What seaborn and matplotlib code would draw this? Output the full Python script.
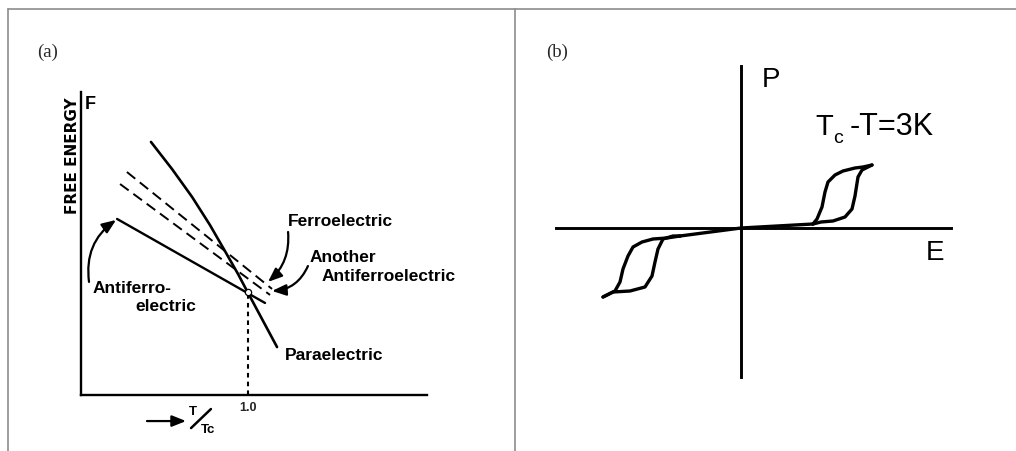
import matplotlib
matplotlib.use("Agg")
import matplotlib.pyplot as plt
import seaborn as sns
from matplotlib.lines import Line2D

sns.set_theme(style="white")
plt.rcParams['font.family'] = ['DejaVu Sans']

# ---------------- Panel (a): free energy vs reduced temperature ----------------
para_t = [0.419, 0.545, 0.665, 0.772, 0.862, 0.940, 0.994, 1.084, 1.174]
para_f = [1.515, 1.353, 1.186, 1.018, 0.862, 0.725, 0.623, 0.455, 0.287]
anti_t = [0.216, 1.102]
anti_f = [1.054, 0.551]
ferro_t = [0.275, 1.144]
ferro_f = [1.335, 0.635]
another_t = [0.234, 1.132]
another_f = [1.263, 0.599]
tc_mark = 1.0
f_cross = 0.617
tick_labels_a = ["1.0"]

# ---------------- Panel (b): double hysteresis loop P(E) ----------------
center_e = [-6.1, 0.0, 7.2]
center_p = [-0.8, 0.0, 0.4]
right_lower_e = [7.2, 8.0, 9.2, 10.4, 11.1, 11.4, 11.7, 12.1, 13.1]
right_lower_p = [0.4, 0.6, 0.7, 1.1, 1.9, 3.2, 5.1, 5.8, 6.3]
right_upper_e = [13.1, 12.2, 11.4, 10.2, 9.4, 8.7, 8.4, 8.1, 7.6, 7.2]
right_upper_p = [6.3, 6.1, 6.0, 5.7, 5.3, 4.6, 3.6, 2.1, 0.9, 0.4]
left_upper_e = [-6.1, -7.4, -8.8, -9.9, -10.8, -11.3, -11.8, -12.1, -12.6, -13.8]
left_upper_p = [-0.8, -1.0, -1.1, -1.4, -1.9, -2.8, -4.1, -5.4, -6.3, -6.9]
left_lower_e = [-13.8, -12.8, -11.1, -9.6, -8.9, -8.6, -8.3, -7.8, -6.8, -6.1]
left_lower_p = [-6.9, -6.4, -6.3, -5.9, -4.8, -3.4, -2.1, -1.1, -0.8, -0.8]

W, H = 1016, 452
fig = plt.figure(figsize=(W / 100, H / 100), dpi=100)
fig.patch.set_facecolor("white")

hand = dict(family=['Liberation Sans', 'DejaVu Sans'], weight='bold',
            color='black')
arial = dict(family=['Liberation Sans', 'DejaVu Sans'], color='black')


def px_rect(x0, y0, x1, y1):
    return [x0 / W, 1 - y1 / H, (x1 - x0) / W, (y1 - y0) / H]


# frame around the two panels
frame_kw = dict(color="#8c8c8c", lw=1.2, transform=fig.transFigure)
fig.add_artist(Line2D([8 / W, 1.0], [1 - 10 / H, 1 - 10 / H], **frame_kw))
fig.add_artist(Line2D([8 / W, 8 / W], [0, 1 - 10 / H], **frame_kw))
fig.add_artist(Line2D([515 / W, 515 / W], [0, 1 - 10 / H], **frame_kw))

fig.text(48 / W, 1 - 52 / H, "(a)", ha="center", va="center",
         family=['Liberation Serif', 'DejaVu Serif'], fontsize=13.5)
fig.text(557 / W, 1 - 52 / H, "(b)", ha="center", va="center",
         family=['Liberation Serif', 'DejaVu Serif'], fontsize=13.5)

# ---------- panel (a) ----------
axa = fig.add_axes(px_rect(81, 93, 427, 396))
axa.set_facecolor("none")
sns.lineplot(x=para_t, y=para_f, sort=False, estimator=None, color="black",
             lw=1.9, ax=axa)
sns.lineplot(x=anti_t, y=anti_f, sort=False, estimator=None, color="black",
             lw=1.7, ax=axa)
for tt, ff in ((ferro_t, ferro_f), (another_t, another_f)):
    sns.lineplot(x=tt, y=ff, sort=False, estimator=None, color="black",
                 lw=1.4, ax=axa).lines[-1].set_dashes((5.5, 3))
axa.plot([tc_mark, tc_mark], [0, f_cross], color="black", lw=1.5,
         dashes=(2.2, 2.0))
axa.plot([tc_mark], [f_cross], marker="o", ms=4.5, mfc="white", mec="black",
         mew=0.9, zorder=5)

axa.set_xlim(0, 2.072)
axa.set_ylim(0, 1.814)
for s in ("top", "right"):
    axa.spines[s].set_visible(False)
for s in ("left", "bottom"):
    axa.spines[s].set_color("black")
    axa.spines[s].set_linewidth(1.7)
axa.set_yticks([])
axa.set_xticks([tc_mark])
axa.set_xticklabels(tick_labels_a, fontsize=9, fontweight="bold",
                    family=['Liberation Sans', 'DejaVu Sans'])
axa.tick_params(axis="x", length=0, pad=4)
axa.set_xlabel("")
axa.set_ylabel("")

axa.text(-0.048, 1.437, "FREE ENERGY", rotation=90, ha="center", va="center",
         fontsize=11, weight='bold', color='black',
         family=['DejaVu Sans'])
axa.text(0.022, 1.745, "F", ha="left", va="center", fontsize=13, **hand)

lab = dict(ha="left", va="center", fontsize=12.5, clip_on=False, **hand)
axa.text(0.072, 0.641, "Antiferro-", **lab)
axa.text(0.323, 0.533, "electric", **lab)
axa.text(1.240, 1.042, "Ferroelectric", **lab)
axa.text(1.371, 0.832, "Another", **lab)
axa.text(1.443, 0.713, "Antiferroelectric", **lab)
axa.text(1.222, 0.240, "Paraelectric", **lab)

arr = dict(arrowstyle="-|>,head_length=0.7,head_width=0.28", color="black",
           lw=1.6, shrinkA=0, shrinkB=0)
axa.annotate("", xy=(0.210, 1.048), xytext=(0.048, 0.677),
             arrowprops=dict(connectionstyle="arc3,rad=-0.3", **arr),
             annotation_clip=False)
axa.annotate("", xy=(1.120, 0.677), xytext=(1.240, 0.976),
             arrowprops=dict(connectionstyle="arc3,rad=-0.25", **arr),
             annotation_clip=False)
axa.annotate("", xy=(1.144, 0.623), xytext=(1.359, 0.772),
             arrowprops=dict(connectionstyle="arc3,rad=-0.3", **arr),
             annotation_clip=False)

# reduced temperature label below the axis: arrow, then T over Tc
axa.annotate("", xy=(0.629, -0.156), xytext=(0.395, -0.156),
             arrowprops=dict(connectionstyle="arc3,rad=0", **arr),
             annotation_clip=False)
axa.text(0.671, -0.095, "T", ha="center", va="center", fontsize=9.5, **hand)
axa.add_line(Line2D([0.659, 0.778], [-0.198, -0.084], color="black", lw=1.8,
                    clip_on=False))
axa.text(0.758, -0.205, "Tc", ha="center", va="center", fontsize=9.5, **hand)

# ---------- panel (b) ----------
axb = fig.add_axes(px_rect(556, 67, 951, 378))
axb.set_facecolor("none")
for ee, pp in ((center_e, center_p), (right_lower_e, right_lower_p),
               (right_upper_e, right_upper_p), (left_upper_e, left_upper_p),
               (left_lower_e, left_lower_p)):
    sns.lineplot(x=ee, y=pp, sort=False, estimator=None, color="black",
                 lw=2.4, ax=axb)
for ln in axb.lines:
    ln.set_solid_joinstyle("round")
    ln.set_solid_capstyle("round")

axb.set_xlim(-18.5, 21.0)
axb.set_ylim(-14.9, 16.2)
for s in ("top", "right"):
    axb.spines[s].set_visible(False)
axb.spines["left"].set_position(("data", 0))
axb.spines["bottom"].set_position(("data", 0))
for s in ("left", "bottom"):
    axb.spines[s].set_color("black")
    axb.spines[s].set_linewidth(2.1)
axb.set_xticks([])
axb.set_yticks([])
axb.set_xlabel("")
axb.set_ylabel("")

axb.text(3.0, 14.9, "P", ha="center", va="center", fontsize=20, **arial)
axb.text(19.4, -2.4, "E", ha="center", va="center", fontsize=20, **arial)
axb.text(7.4, 10.2, "T", ha="left", va="center", fontsize=21, **arial)
axb.text(9.2, 9.0, "c", ha="left", va="center", fontsize=14, **arial)
axb.text(10.9, 10.2, "-T=3K", ha="left", va="center", fontsize=22, **arial)

fig.savefig("out.png", dpi=100, facecolor="white")
